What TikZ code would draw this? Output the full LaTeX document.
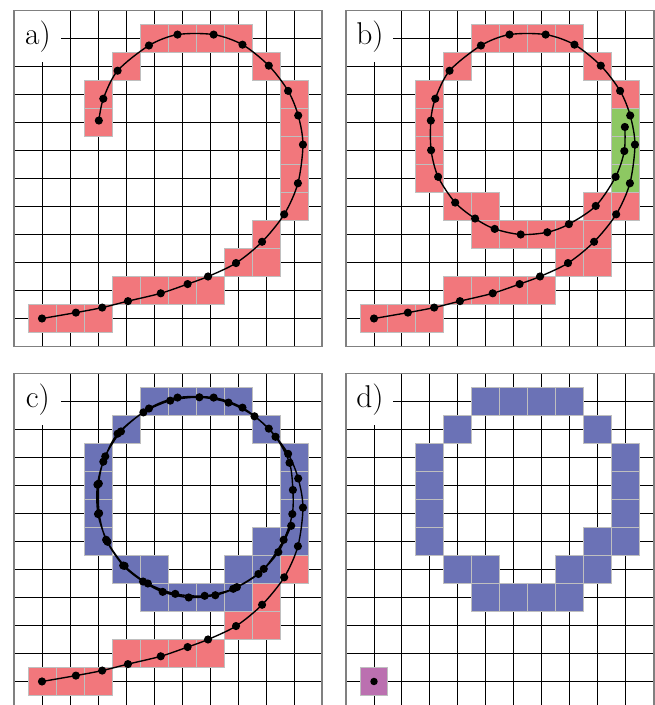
\documentclass[tikz,border=0pt]{standalone}
\usepackage{xcolor}
\usepackage{tikz}
\definecolor{PixRed}{HTML}{F2777C}
\definecolor{PixBlue}{HTML}{6B72B6}
\definecolor{PixGreen}{HTML}{8DC862}
\definecolor{PixPurple}{HTML}{BB70B0}
\definecolor{FrameGray}{HTML}{808080}
\tikzset{
  gridline/.style={line width=0.5pt,draw=black,step=0.5cm},
  panelframe/.style={line width=0.7pt,draw=FrameGray},
  panellabel/.style={fill=white,anchor=north west,minimum width=8.4mm,minimum height=9.1mm,inner sep=0pt,font=\fontsize{16}{18}\selectfont},
  pixcell/.style={draw=black!25,line width=0.5pt},
  splinepath/.style={line width=0.7pt,draw=black,mark=*,mark size=1.7pt,mark options={fill=black,draw=black}},
  sampledot/.style={fill=black}
}

\begin{document}
\begin{tikzpicture}[x=0.5cm,y=0.5cm]
\useasboundingbox (-0.5,-12.804) rectangle (22.893,12.375);
\clip (-0.5,-12.804) rectangle (22.893,12.375);
% grids and panel labels
\foreach \sx/\sy/\lab in {0/0/a,11.857/0/b,0/-12.964/c,11.857/-12.964/d}{
  \begin{scope}[shift={(\sx,\sy)}]
    \draw[gridline] (0,0) grid (11,12);
    \node[panellabel] (lab\lab) at (0,12) {\lab)};
    \draw[panelframe] (0,0) rectangle (11,12);
  \end{scope}
}
% a) open spiral
\begin{scope}
  \foreach \i/\j in {1/1,2/1,3/1,4/2,5/2,6/2,7/2,8/3,9/3,9/4,10/5,10/6,10/7,10/8,10/9,9/10,8/11,7/11,6/11,5/11,4/10,3/9,3/8}
    \filldraw[pixcell,fill=PixRed] (\i-0.5,\j-0.5) rectangle ++(1,1);
  \draw[splinepath] plot[smooth] coordinates {(1,1) (2.21,1.21) (3.15,1.39) (4.07,1.62) (5.24,1.9) (6.2,2.23) (6.93,2.5) (7.93,2.98) (8.86,3.74) (9.65,4.72) (10.14,5.83) (10.32,7.21) (10.15,8.25) (9.79,9.13) (9.1,10.03) (8.16,10.78) (7.13,11.14) (5.84,11.14) (4.82,10.75) (3.7,9.85) (3.19,8.85) (3.03,8.07)};
\end{scope}
% b) closed loop, overlap in green
\begin{scope}[shift={(11.857,0)}]
  \foreach \i/\j in {1/1,2/1,3/1,4/2,5/2,6/2,7/2,8/3,9/3,5/4,6/4,7/4,8/4,9/4,4/5,5/5,9/5,10/5,3/6,3/7,3/8,3/9,10/9,4/10,9/10,5/11,6/11,7/11,8/11}
    \filldraw[pixcell,fill=PixRed] (\i-0.5,\j-0.5) rectangle ++(1,1);
  \foreach \j in {6,7,8}
    \filldraw[pixcell,fill=PixGreen] (9.5,\j-0.5) rectangle ++(1,1);
  \draw[splinepath] plot[smooth] coordinates {(1,1) (2.21,1.21) (3.15,1.39) (4.07,1.62) (5.24,1.9) (6.2,2.23) (6.93,2.5) (7.93,2.98) (8.86,3.74) (9.65,4.72) (10.14,5.83) (10.32,7.21) (10.15,8.25) (9.79,9.13) (9.1,10.03) (8.16,10.78) (7.13,11.14) (5.84,11.14) (4.82,10.75) (3.7,9.85) (3.19,8.85) (3.03,8.07) (3.04,7.01) (3.29,6.06) (3.90,5.14) (4.61,4.57) (5.31,4.20) (6.24,4.00) (7.19,4.08) (7.96,4.37) (8.92,5.02) (9.63,6.06) (9.94,6.98) (9.96,7.84)};
\end{scope}
% c) loop traced twice
\begin{scope}[shift={(0,-12.964)}]
  \foreach \i/\j in {1/1,2/1,3/1,4/2,5/2,6/2,7/2,8/3,9/3,9/4,10/5}
    \filldraw[pixcell,fill=PixRed] (\i-0.5,\j-0.5) rectangle ++(1,1);
  \foreach \i/\j in {5/11,6/11,7/11,8/11,4/10,9/10,3/9,3/8,3/7,3/6,10/9,10/8,10/7,10/6,9/6,4/5,5/5,8/5,9/5,5/4,6/4,7/4,8/4}
    \filldraw[pixcell,fill=PixBlue] (\i-0.5,\j-0.5) rectangle ++(1,1);
  \draw[splinepath] plot[smooth] coordinates {(1,1) (2.21,1.21) (3.15,1.39) (4.07,1.62) (5.24,1.9) (6.2,2.23) (6.93,2.5) (7.93,2.98) (8.86,3.74) (9.65,4.72) (10.14,5.83) (10.32,7.21) (10.15,8.25) (9.79,9.13) (9.1,10.03) (8.16,10.78) (7.13,11.14) (5.84,11.14) (4.82,10.75) (3.7,9.85) (3.19,8.85) (3.03,8.07) (3.04,7.01) (3.29,6.06) (3.90,5.14) (4.61,4.57) (5.31,4.20) (6.24,4.00) (7.19,4.08) (7.96,4.37) (8.92,5.02) (9.63,6.06) (9.94,6.98) (9.96,7.84) (9.84,8.81) (9.34,9.74) (8.59,10.47) (7.66,10.96) (6.62,11.15) (5.58,11.03) (4.62,10.61) (3.82,9.93) (3.26,9.04) (2.98,8.03) (3.00,6.98) (3.34,5.99) (3.95,5.13) (4.78,4.50) (5.76,4.13) (6.81,4.06) (7.83,4.31) (8.73,4.84) (9.44,5.62) (9.90,6.56)};
\end{scope}
% d) loop pixels and leftover start pixel
\begin{scope}[shift={(11.857,-12.964)}]
  \foreach \i/\j in {5/11,6/11,7/11,8/11,4/10,9/10,3/9,3/8,3/7,3/6,10/9,10/8,10/7,10/6,9/6,4/5,5/5,8/5,9/5,5/4,6/4,7/4,8/4}
    \filldraw[pixcell,fill=PixBlue] (\i-0.5,\j-0.5) rectangle ++(1,1);
  \filldraw[pixcell,fill=PixPurple] (0.5,0.5) rectangle ++(1,1);
  \fill[sampledot] (1,1) circle (1.9pt);
\end{scope}
\end{tikzpicture}
\end{document}
